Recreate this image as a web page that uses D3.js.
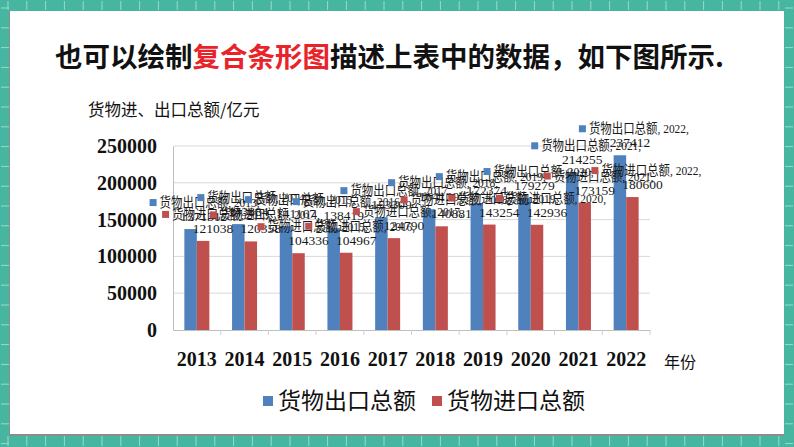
<!DOCTYPE html>
<html><head><meta charset="utf-8">
<script src="https://cdn.jsdelivr.net/npm/d3@7"></script>
<style>
html,body{margin:0;padding:0;background:#fff;}
svg{display:block;}
</style>
</head><body>
<svg id="c" width="794" height="447"></svg>
<script>
// ---- data ----
const years = ['2013','2014','2015','2016','2017','2018','2019','2020','2021','2022'];
const exportVals = [137131,143884,141167,138419,153309,164129,172374,179279,214255,237412];
const importVals = [121038,120358,104336,104967,124790,140881,143254,142936,173159,180600];
const seriesNames = ['货物出口总额','货物进口总额'];
const seriesColors = ['#4f81bd','#c0504d'];
const yTicks = [0,50000,100000,150000,200000,250000];
const titleParts = [['也可以绘制','#111'],['复合条形图','#e8232a'],['描述上表中的数据，如下图所示.','#111']];
const yTitle = '货物进、出口总额/亿元';
const xTitle = '年份';

const svg = d3.select('#c');
const W = 794, H = 447;
const cjk = '"Noto Sans CJK SC","Noto Sans",sans-serif';
const serif = '"Liberation Serif","Times New Roman","Noto Sans CJK SC",serif';

// ---- frame ----
const teal = '#46b6a0', tickCol = '#98dccd';
svg.append('rect').attr('x',0).attr('y',0).attr('width',W).attr('height',H).attr('fill',teal);
const fr = {l:10, t:11, r:784, b:435};
const fg = svg.append('g');
for (let x = 8; x < W; x += 18.8) {
  fg.append('line').attr('x1',x).attr('x2',x).attr('y1',1).attr('y2',fr.t-1).attr('stroke',tickCol).attr('stroke-width',1);
  fg.append('line').attr('x1',x).attr('x2',x).attr('y1',fr.b+1).attr('y2',H-1).attr('stroke',tickCol).attr('stroke-width',1);
}
for (let y = 8; y < H; y += 19.8) {
  fg.append('line').attr('y1',y).attr('y2',y).attr('x1',1).attr('x2',fr.l-1).attr('stroke',tickCol).attr('stroke-width',1);
  fg.append('line').attr('y1',y).attr('y2',y).attr('x1',fr.r+1).attr('x2',W-1).attr('stroke',tickCol).attr('stroke-width',1);
}
svg.append('rect').attr('x',fr.l-1).attr('y',fr.t).attr('width',fr.r-fr.l+1).attr('height',fr.b-fr.t+1).attr('fill','#8c8c8c');
svg.append('rect').attr('x',fr.l).attr('y',fr.t).attr('width',fr.r-fr.l).attr('height',fr.b-fr.t-1).attr('fill','#ffffff');

// ---- title ----
const tt = svg.append('text').attr('x',55).attr('y',67).attr('font-family',cjk).attr('font-size',27.5).attr('font-weight','bold');
titleParts.forEach(p => tt.append('tspan').attr('fill',p[1]).text(p[0]));

svg.append('text').attr('x',88).attr('y',116).attr('font-family',cjk).attr('font-size',16.5).attr('fill','#111').text(yTitle);

// ---- scales ----
const x0 = d3.scaleBand().domain(years).range([173,650]).padding(0);
const bw = x0.bandwidth();
const x1 = d3.scaleBand().domain([0,1]).range([bw/2-12.5, bw/2+12.5]).padding(0);
const y = d3.scaleLinear().domain([0,250000]).range([330,146]);

// grid
svg.append('g').selectAll('line').data(yTicks.filter(d=>d>0)).join('line')
  .attr('x1',173).attr('x2',650).attr('y1',d=>y(d)).attr('y2',d=>y(d))
  .attr('stroke','#d9d9d9').attr('stroke-width',1);

// y axis
const yAxis = d3.axisLeft(y).tickValues(yTicks).tickSize(0).tickPadding(16).tickFormat(d3.format('d'));
const ga = svg.append('g').attr('transform','translate(173,0)').call(yAxis);
ga.select('.domain').attr('stroke','#bfbfbf');
ga.selectAll('text').attr('font-family',serif).attr('font-size',20).attr('font-weight','bold').attr('fill','#111');

// x axis
const xAxis = d3.axisBottom(x0).tickSize(0).tickPadding(22);
const gx = svg.append('g').attr('transform','translate(0,330)').call(xAxis);
gx.select('.domain').attr('stroke','#bfbfbf');
gx.selectAll('text').attr('font-family',serif).attr('font-size',20).attr('font-weight','bold').attr('fill','#111');
// category separators
svg.append('g').selectAll('line').data(years.slice(1).concat(['end'])).join('line')
  .attr('x1',(d,i)=> i < years.length-1 ? x0(d) : 650).attr('x2',(d,i)=> i < years.length-1 ? x0(d) : 650)
  .attr('y1',330).attr('y2',335).attr('stroke','#d0d0d0');

svg.append('text').attr('x',664).attr('y',368).attr('font-family',cjk).attr('font-size',16).attr('fill','#111').text(xTitle);

// ---- bars ----
const series = [exportVals, importVals];
const bars = svg.append('g');
series.forEach((vals, si) => {
  bars.selectAll('rect.s'+si).data(vals).join('rect').attr('class','s'+si)
    .attr('x',(d,i)=>x0(years[i])+x1(si)).attr('width',x1.bandwidth())
    .attr('y',d=>y(d)).attr('height',d=>y(0)-y(d)).attr('fill',seriesColors[si]);
});

// ---- data labels ----
const lab = svg.append('g').attr('font-family',serif).attr('font-size',13.5).attr('fill','#1a1a1a');
series.forEach((vals, si) => {
  vals.forEach((v, i) => {
    const cx = x0(years[i]) + x1(si) + x1.bandwidth()/2;
    const top = y(v);
    const sx = cx - 41, ly = top - 22;
    lab.append('rect').attr('x',sx).attr('y',ly-8).attr('width',7).attr('height',7).attr('fill',seriesColors[si]);
    lab.append('text').attr('x',sx+10).attr('y',ly).attr('textLength',100).attr('lengthAdjust','spacingAndGlyphs')
      .text(seriesNames[si] + ', ' + years[i] + ',');
    lab.append('text').attr('x',cx+10).attr('y',top-8).attr('text-anchor','middle').text(String(v));
  });
});

// ---- legend ----
const lg = svg.append('g').attr('font-family',cjk).attr('font-size',23).attr('fill','#111');
const legX = [263, 432];
seriesNames.forEach((n, i) => {
  lg.append('rect').attr('x',legX[i]).attr('y',396).attr('width',10).attr('height',10).attr('fill',seriesColors[i]);
  lg.append('text').attr('x',legX[i]+15).attr('y',409).text(n);
});
</script>
</body></html>
